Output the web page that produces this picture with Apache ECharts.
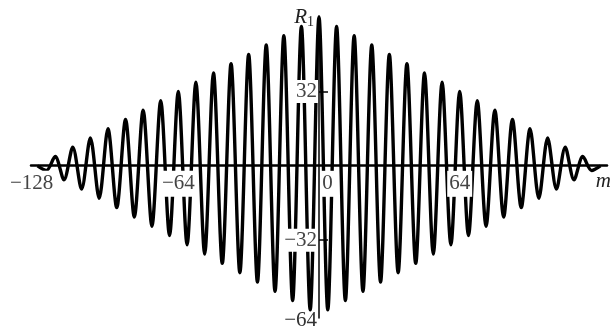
<!DOCTYPE html>
<html>
<head>
<meta charset="utf-8">
<script src="https://cdn.jsdelivr.net/npm/echarts@6/dist/echarts.min.js"></script>
<style>
  html, body { margin: 0; padding: 0; background: #fff; }
  #chart { width: 616px; height: 331px; }
</style>
</head>
<body>
<div id="chart"></div>
<script>
// Lag m at every extremum of the correlation curve (peaks and troughs, step 4)
const lags = [
  -128, -124, -120, -116, -112, -108, -104, -100, -96, -92, -88, -84, -80, -76, -72, -68,
  -64, -60, -56, -52, -48, -44, -40, -36, -32, -28, -24, -20, -16, -12, -8, -4,
  0,
  4, 8, 12, 16, 20, 24, 28, 32, 36, 40, 44, 48, 52, 56, 60, 64,
  68, 72, 76, 80, 84, 88, 92, 96, 100, 104, 108, 112, 116, 120, 124, 128
];
// R1(m) at those lags
const r1 = [
  0, -2, 4, -6, 8, -10, 12, -14, 16, -18, 20, -22, 24, -26, 28, -30,
  32, -34, 36, -38, 40, -42, 44, -46, 48, -50, 52, -54, 56, -58, 60, -62,
  64,
  -62, 60, -58, 56, -54, 52, -50, 48, -46, 44, -42, 40, -38, 36, -34, 32,
  -30, 28, -26, 24, -22, 20, -18, 16, -14, 12, -10, 8, -6, 4, -2, 0
];
// Tick labels
const xTicks = [-128, -64, 0, 64];
const yTicks = [32, -32, -64];
const yMarks = [32, -32];

const serif = 'Liberation Serif';
const minus = v => (v < 0 ? '\u2212' + Math.abs(v) : String(v));

// Plot frame: the axes cross at the origin inside it
const GRID = { left: 31, right: 9, top: 16, bottom: 11 };
const X_RANGE = [-131, 131];
const Y_RANGE = [-65.5, 64.5];
const W = 616, H = 331;
const plotW = W - GRID.left - GRID.right;
const plotH = H - GRID.top - GRID.bottom;
// distance from the plot edges to the zero lines
const xAxisShift = plotH * (0 - Y_RANGE[0]) / (Y_RANGE[1] - Y_RANGE[0]);
const yAxisShift = plotW * (0 - X_RANGE[0]) / (X_RANGE[1] - X_RANGE[0]);

const chart = echarts.init(document.getElementById('chart'), null, { renderer: 'canvas' });
chart.setOption({
  animation: false,
  backgroundColor: '#fff',
  grid: Object.assign({ containLabel: false }, GRID),
  xAxis: {
    type: 'value',
    min: X_RANGE[0],
    max: X_RANGE[1],
    position: 'bottom',
    offset: -xAxisShift,
    z: 3,
    splitLine: { show: false },
    axisLine: { onZero: false, lineStyle: { color: '#000', width: 2.5 } },
    axisTick: { show: false },
    axisLabel: {
      customValues: xTicks,
      margin: 6,
      formatter: v => {
        if (v === 0) return '{sp|}{w|0}';
        if (v === -128) return '{w|' + minus(v) + '}{sp2|}';
        return '{w|' + minus(v) + '}';
      },
      rich: {
        w: { fontFamily: serif, fontSize: 21, color: '#444', backgroundColor: '#fff', padding: [2, 2, 3, 2] },
        sp: { width: 17 },
        sp2: { width: 12 }
      }
    },
    name: 'm',
    nameLocation: 'end',
    nameGap: 4,
    nameTextStyle: {
      fontFamily: serif,
      fontStyle: 'italic',
      fontSize: 21,
      color: '#222',
      align: 'right',
      verticalAlign: 'top',
      padding: [6, 0, 0, 0]
    }
  },
  yAxis: {
    type: 'value',
    min: Y_RANGE[0],
    max: Y_RANGE[1],
    position: 'left',
    offset: -yAxisShift,
    z: 3,
    splitLine: { show: false },
    axisLine: { onZero: false, lineStyle: { color: '#000', width: 1.5 } },
    axisTick: {
      show: true,
      customValues: yMarks,
      inside: true,
      length: 9,
      lineStyle: { color: '#000', width: 1.5 }
    },
    axisLabel: {
      customValues: yTicks,
      margin: 1,
      formatter: v => (v === -64 ? '{low|' + minus(v) + '}' : '{w|' + minus(v) + '}'),
      rich: {
        w: { fontFamily: serif, fontSize: 21, color: '#444', backgroundColor: '#fff', padding: [1, 1, 1, 1] },
        low: { fontFamily: serif, fontSize: 21, color: '#333', padding: [12, 1, 0, 1] }
      }
    },
    name: '{r|R}{s|1}',
    nameLocation: 'end',
    nameGap: 10,
    nameTextStyle: {
      align: 'right',
      verticalAlign: 'top',
      padding: [0, 5, 0, 0],
      rich: {
        r: { fontFamily: serif, fontStyle: 'italic', fontSize: 21, color: '#222' },
        s: { fontFamily: serif, fontSize: 14, color: '#222', padding: [9, 0, 0, 0] }
      }
    }
  },
  series: [{
    type: 'line',
    data: lags.map((m, i) => [m, r1[i]]),
    smooth: 0.3,
    showSymbol: false,
    lineStyle: { color: '#000', width: 3.4 },
    z: 2
  }]
});
</script>
</body>
</html>
